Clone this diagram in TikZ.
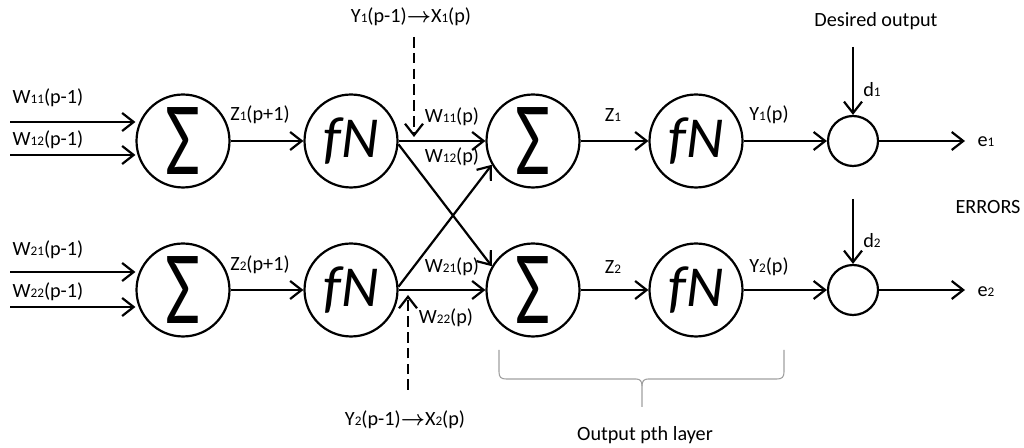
\documentclass[tikz,border=0pt]{standalone}
\usepackage{fontspec}
\setmainfont{Carlito}
\usetikzlibrary{arrows.meta}
\newcommand{\ix}[1]{{\fontsize{7.5}{8}\selectfont #1}}
\newcommand{\suma}{\scalebox{0.8}[1.1]{\fontsize{54}{54}\selectfont Σ}}
\newcommand{\fn}{{\fontsize{33}{33}\selectfont\itshape fN}}
\newcommand{\flechita}{{\boldmath$\rightarrow$}}
\begin{document}
\begin{tikzpicture}[x=0.02cm, y=-0.02cm, line width=1.25pt,
    every node/.style={font=\fontsize{11.5}{13}\selectfont},
    neurona/.style={circle, draw, line width=1.25pt, minimum size=1.86cm, inner sep=0pt},
    comparador/.style={circle, draw, line width=1.25pt, minimum size=1.0cm, inner sep=0pt},
    flecha/.style={-{Straight Barb[length=2.3mm, width=3.6mm]}},
    discontinua/.style={flecha, dash pattern=on 6pt off 3pt}]
    \useasboundingbox (0,0) rectangle (1024,448);
    % Primera fila de neuronas
    \node[neurona] (s1) at (183,141) {\suma};
    \node[neurona] (f1) at (351,141) {\fn};
    \node[neurona] (s3) at (533,141) {\suma};
    \node[neurona] (f3) at (696,141) {\fn};
    \node[comparador] (c1) at (853,141) {};
    % Segunda fila de neuronas
    \node[neurona] (s2) at (183,290) {\suma};
    \node[neurona] (f2) at (351,290) {\fn};
    \node[neurona] (s4) at (533,290) {\suma};
    \node[neurona] (f4) at (696,290) {\fn};
    \node[comparador] (c2) at (853,290) {};
    % Entradas de la capa p-1
    \coordinate (a11) at (10,122);
    \coordinate (a12) at (10,155);
    \coordinate (a21) at (10,272);
    \coordinate (a22) at (10,307);
    \draw[flecha] (a11) -- (a11 -| s1.west);
    \draw[flecha] (a12) -- (a12 -| s1.west);
    \draw[flecha] (a21) -- (a21 -| s2.west);
    \draw[flecha] (a22) -- (a22 -| s2.west);
    \node (w11a) at (48,98) {W\ix{11}(p-1)};
    \node (w12a) at (48,140) {W\ix{12}(p-1)};
    \node (w21a) at (48,250) {W\ix{21}(p-1)};
    \node (w22a) at (48,292) {W\ix{22}(p-1)};
    % Suma -> funcion de activacion
    \draw[flecha] (s1) -- (f1);
    \draw[flecha] (s2) -- (f2);
    \node (z1a) at (260,115) {Z\ix1(p+1)};
    \node (z2a) at (260,265) {Z\ix2(p+1)};
    % Conexiones cruzadas hacia la capa de salida
    \draw[flecha] (f1) -- (s3);
    \draw[flecha] (f2) -- (s4);
    \draw[flecha] (f1.-4) -- (s4.150);
    \draw[flecha] (f2.4) -- (s3.210);
    \node (w11) at (452,117) {W\ix{11}(p)};
    \node (w12) at (452,157) {W\ix{12}(p)};
    \node (w21) at (452,267) {W\ix{21}(p)};
    \node (w22) at (446,318) {W\ix{22}(p)};
    % Entradas externas (discontinuas)
    \node (x1) at (411,17) {Y\ix1(p-1)\flechita X\ix1(p)};
    \node (x2) at (405,420) {Y\ix2(p-1)\flechita X\ix2(p)};
    \coordinate (x1a) at (414,37);
    \coordinate (x1b) at (414,137);
    \coordinate (x2a) at (408,390);
    \coordinate (x2b) at (408,295);
    \draw[discontinua] (x1a) -- (x1b);
    \draw[discontinua] (x2a) -- (x2b);
    % Capa de salida
    \draw[flecha] (s3) -- (f3);
    \draw[flecha] (s4) -- (f4);
    \draw[flecha] (f3) -- (c1);
    \draw[flecha] (f4) -- (c2);
    \node (z1) at (613,115) {Z\ix1};
    \node (z2) at (613,267) {Z\ix2};
    \node (y1) at (769,115) {Y\ix1(p)};
    \node (y2) at (769,267) {Y\ix2(p)};
    % Salida deseada y errores
    \node (des) at (876,21) {Desired output};
    \coordinate (d1a) at (853,47);
    \coordinate (d2a) at (853,199);
    \draw[flecha] (d1a) -- (c1);
    \draw[flecha] (d2a) -- (c2);
    \node (d1) at (872,90) {d\ix1};
    \node (d2) at (872,241) {d\ix2};
    \coordinate (e1a) at (965,141);
    \coordinate (e2a) at (965,290);
    \draw[flecha] (c1) -- (e1a);
    \draw[flecha] (c2) -- (e2a);
    \node (e1) at (986,142) {e\ix1};
    \node (e2) at (986,292) {e\ix2};
    \node (err) at (988,207) {ERRORS};
    % Llave de la capa de salida
    \draw[gray!75, line width=0.6pt] (499,350) -- (499,372) .. controls (499,377) and (501,379) .. (506,379)
        -- (636,379) .. controls (640,379) and (642,381) .. (642,386) -- (642,407);
    \draw[gray!75, line width=0.6pt] (642,386) .. controls (642,381) and (644,379) .. (648,379)
        -- (777,379) .. controls (782,379) and (784,377) .. (784,372) -- (784,350);
    \node (capa) at (645,435) {Output pth layer};
\end{tikzpicture}
\end{document}
